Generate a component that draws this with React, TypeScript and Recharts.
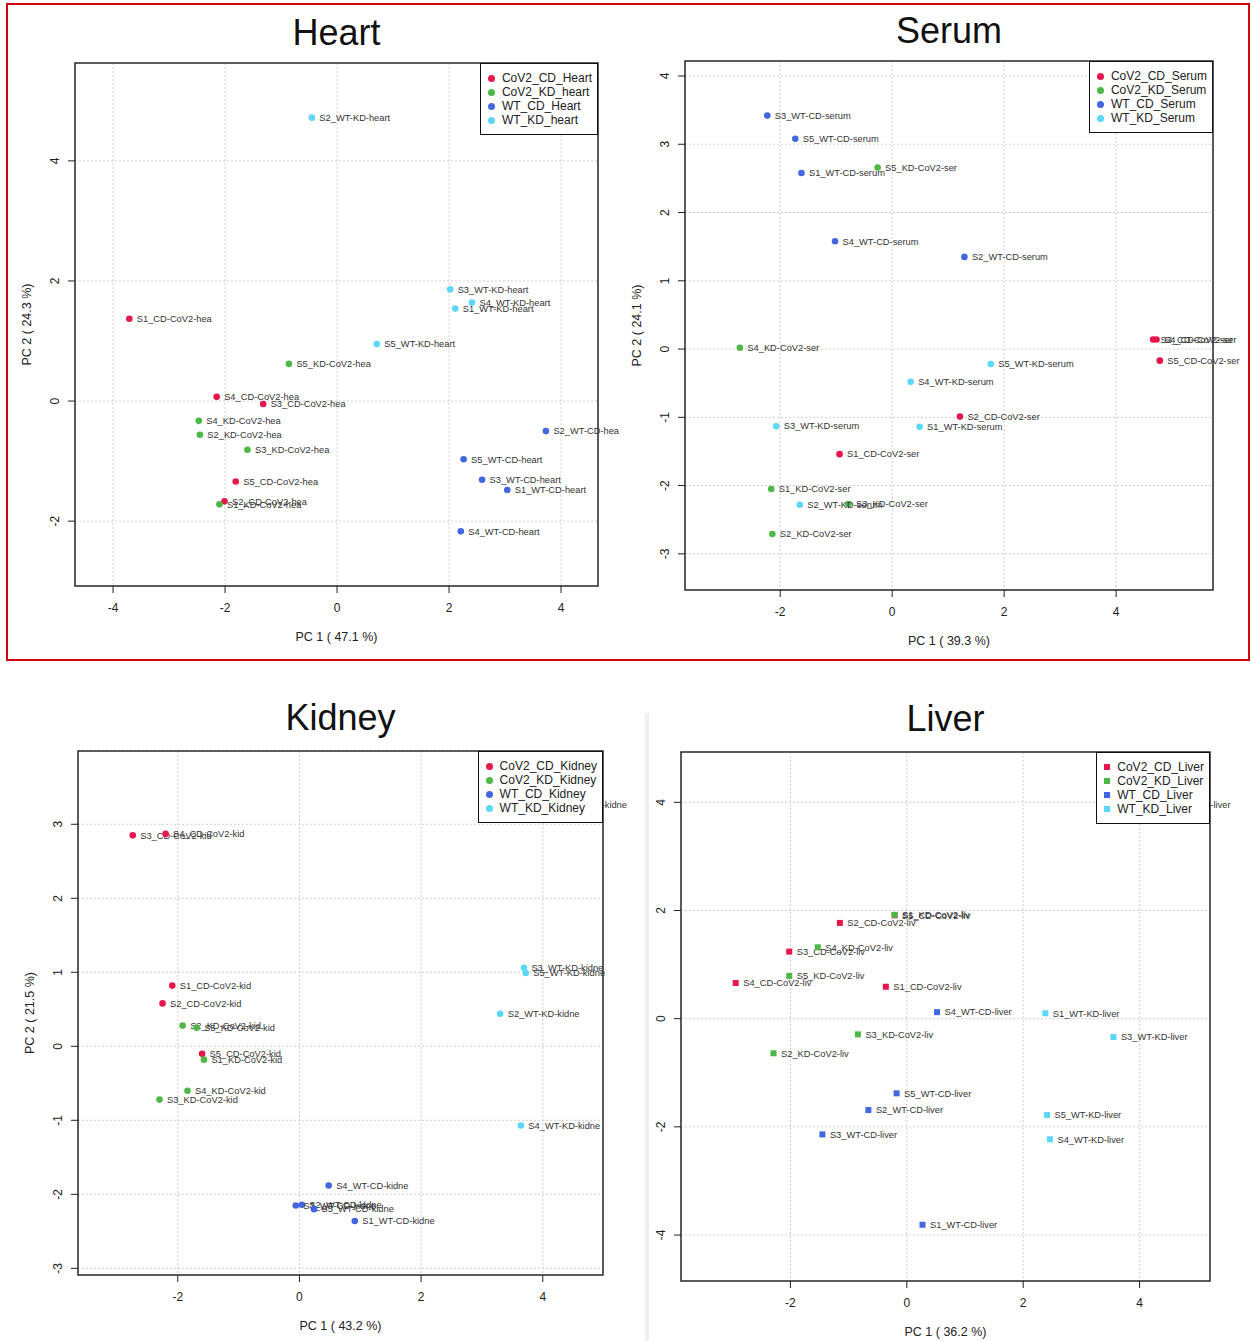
import React from 'react';
import {
  ScatterChart,
  Scatter,
  XAxis,
  YAxis,
  CartesianGrid,
  ReferenceArea
} from 'recharts';

const FONT = '"Liberation Sans", Arial, Helvetica, sans-serif';

// group colours: CoV2_CD, CoV2_KD, WT_CD, WT_KD
const GROUP_COLORS = ['#E8174B', '#4DB848', '#4466E0', '#5CD7FA'];

type Sample = { label: string; pc1: number; pc2: number };

// ---- Heart ----
const heartLegend = ['CoV2_CD_Heart', 'CoV2_KD_heart', 'WT_CD_Heart', 'WT_KD_heart'];
const heartCoV2CD: Sample[] = [
  { label: 'S1_CD-CoV2-hea', pc1: -3.71, pc2: 1.37 },
  { label: 'S2_CD-CoV2-hea', pc1: -2.01, pc2: -1.67 },
  { label: 'S3_CD-CoV2-hea', pc1: -1.32, pc2: -0.05 },
  { label: 'S4_CD-CoV2-hea', pc1: -2.15, pc2: 0.07 },
  { label: 'S5_CD-CoV2-hea', pc1: -1.81, pc2: -1.34 }
];
const heartCoV2KD: Sample[] = [
  { label: 'S1_KD-CoV2-hea', pc1: -2.1, pc2: -1.72 },
  { label: 'S2_KD-CoV2-hea', pc1: -2.45, pc2: -0.56 },
  { label: 'S3_KD-CoV2-hea', pc1: -1.6, pc2: -0.81 },
  { label: 'S4_KD-CoV2-hea', pc1: -2.47, pc2: -0.33 },
  { label: 'S5_KD-CoV2-hea', pc1: -0.86, pc2: 0.62 }
];
const heartWTCD: Sample[] = [
  { label: 'S1_WT-CD-heart', pc1: 3.04, pc2: -1.48 },
  { label: 'S2_WT-CD-hea', pc1: 3.73, pc2: -0.5 },
  { label: 'S3_WT-CD-heart', pc1: 2.59, pc2: -1.31 },
  { label: 'S4_WT-CD-heart', pc1: 2.21, pc2: -2.17 },
  { label: 'S5_WT-CD-heart', pc1: 2.26, pc2: -0.97 }
];
const heartWTKD: Sample[] = [
  { label: 'S1_WT-KD-heart', pc1: 2.11, pc2: 1.54 },
  { label: 'S2_WT-KD-heart', pc1: -0.45, pc2: 4.72 },
  { label: 'S3_WT-KD-heart', pc1: 2.02, pc2: 1.86 },
  { label: 'S4_WT-KD-heart', pc1: 2.41, pc2: 1.64 },
  { label: 'S5_WT-KD-heart', pc1: 0.71, pc2: 0.95 }
];

// ---- Serum ----
const serumLegend = ['CoV2_CD_Serum', 'CoV2_KD_Serum', 'WT_CD_Serum', 'WT_KD_Serum'];
const serumCoV2CD: Sample[] = [
  { label: 'S1_CD-CoV2-ser', pc1: -0.94, pc2: -1.54 },
  { label: 'S2_CD-CoV2-ser', pc1: 1.21, pc2: -0.99 },
  { label: 'S3_CD-CoV2-ser', pc1: 4.66, pc2: 0.14 },
  { label: 'S4_CD-CoV2-ser', pc1: 4.72, pc2: 0.14 },
  { label: 'S5_CD-CoV2-ser', pc1: 4.78, pc2: -0.17 }
];
const serumCoV2KD: Sample[] = [
  { label: 'S1_KD-CoV2-ser', pc1: -2.16, pc2: -2.05 },
  { label: 'S2_KD-CoV2-ser', pc1: -2.14, pc2: -2.71 },
  { label: 'S3_KD-CoV2-ser', pc1: -0.78, pc2: -2.27 },
  { label: 'S4_KD-CoV2-ser', pc1: -2.72, pc2: 0.02 },
  { label: 'S5_KD-CoV2-ser', pc1: -0.26, pc2: 2.66 }
];
const serumWTCD: Sample[] = [
  { label: 'S1_WT-CD-serum', pc1: -1.62, pc2: 2.58 },
  { label: 'S2_WT-CD-serum', pc1: 1.29, pc2: 1.35 },
  { label: 'S3_WT-CD-serum', pc1: -2.23, pc2: 3.42 },
  { label: 'S4_WT-CD-serum', pc1: -1.02, pc2: 1.58 },
  { label: 'S5_WT-CD-serum', pc1: -1.73, pc2: 3.08 }
];
const serumWTKD: Sample[] = [
  { label: 'S1_WT-KD-serum', pc1: 0.49, pc2: -1.14 },
  { label: 'S2_WT-KD-serum', pc1: -1.65, pc2: -2.28 },
  { label: 'S3_WT-KD-serum', pc1: -2.07, pc2: -1.13 },
  { label: 'S4_WT-KD-serum', pc1: 0.33, pc2: -0.48 },
  { label: 'S5_WT-KD-serum', pc1: 1.76, pc2: -0.22 }
];

// ---- Kidney ----
const kidneyLegend = ['CoV2_CD_Kidney', 'CoV2_KD_Kidney', 'WT_CD_Kidney', 'WT_KD_Kidney'];
const kidneyCoV2CD: Sample[] = [
  { label: 'S1_CD-CoV2-kid', pc1: -2.09, pc2: 0.82 },
  { label: 'S2_CD-CoV2-kid', pc1: -2.25, pc2: 0.58 },
  { label: 'S3_CD-CoV2-kid', pc1: -2.74, pc2: 2.85 },
  { label: 'S4_CD-CoV2-kid', pc1: -2.2, pc2: 2.87 },
  { label: 'S5_CD-CoV2-kid', pc1: -1.6, pc2: -0.1 }
];
const kidneyCoV2KD: Sample[] = [
  { label: 'S1_KD-CoV2-kid', pc1: -1.57, pc2: -0.18 },
  { label: 'S2_KD-CoV2-kid', pc1: -1.92, pc2: 0.28 },
  { label: 'S3_KD-CoV2-kid', pc1: -2.3, pc2: -0.72 },
  { label: 'S4_KD-CoV2-kid', pc1: -1.84, pc2: -0.6 },
  { label: 'S5_KD-CoV2-kid', pc1: -1.69, pc2: 0.25 }
];
const kidneyWTCD: Sample[] = [
  { label: 'S1_WT-CD-kidne', pc1: 0.91, pc2: -2.36 },
  { label: 'S2_WT-CD-kidne', pc1: 0.04, pc2: -2.14 },
  { label: 'S3_WT-CD-kidne', pc1: -0.06, pc2: -2.15 },
  { label: 'S4_WT-CD-kidne', pc1: 0.48, pc2: -1.88 },
  { label: 'S5_WT-CD-kidne', pc1: 0.24, pc2: -2.2 }
];
const kidneyWTKD: Sample[] = [
  { label: 'S1_WT-KD-kidne', pc1: 4.08, pc2: 3.27 },
  { label: 'S2_WT-KD-kidne', pc1: 3.3, pc2: 0.44 },
  { label: 'S3_WT-KD-kidne', pc1: 3.69, pc2: 1.06 },
  { label: 'S4_WT-KD-kidne', pc1: 3.64, pc2: -1.07 },
  { label: 'S5_WT-KD-kidne', pc1: 3.72, pc2: 0.99 }
];

// ---- Liver ----
const liverLegend = ['CoV2_CD_Liver', 'CoV2_KD_Liver', 'WT_CD_Liver', 'WT_KD_Liver'];
const liverCoV2CD: Sample[] = [
  { label: 'S1_CD-CoV2-liv', pc1: -0.36, pc2: 0.59 },
  { label: 'S2_CD-CoV2-liv', pc1: -1.15, pc2: 1.77 },
  { label: 'S3_CD-CoV2-liv', pc1: -2.02, pc2: 1.24 },
  { label: 'S4_CD-CoV2-liv', pc1: -2.94, pc2: 0.66 },
  { label: 'S5_CD-CoV2-liv', pc1: -0.21, pc2: 1.91 }
];
const liverCoV2KD: Sample[] = [
  { label: 'S1_KD-CoV2-liv', pc1: -0.21, pc2: 1.92 },
  { label: 'S2_KD-CoV2-liv', pc1: -2.29, pc2: -0.64 },
  { label: 'S3_KD-CoV2-liv', pc1: -0.84, pc2: -0.29 },
  { label: 'S4_KD-CoV2-liv', pc1: -1.53, pc2: 1.32 },
  { label: 'S5_KD-CoV2-liv', pc1: -2.02, pc2: 0.79 }
];
const liverWTCD: Sample[] = [
  { label: 'S1_WT-CD-liver', pc1: 0.27, pc2: -3.81 },
  { label: 'S2_WT-CD-liver', pc1: -0.66, pc2: -1.69 },
  { label: 'S3_WT-CD-liver', pc1: -1.45, pc2: -2.14 },
  { label: 'S4_WT-CD-liver', pc1: 0.52, pc2: 0.12 },
  { label: 'S5_WT-CD-liver', pc1: -0.175, pc2: -1.38 }
];
const liverWTKD: Sample[] = [
  { label: 'S1_WT-KD-liver', pc1: 2.38, pc2: 0.1 },
  { label: 'S2_WT-KD-liver', pc1: 4.29, pc2: 3.96 },
  { label: 'S3_WT-KD-liver', pc1: 3.55, pc2: -0.34 },
  { label: 'S4_WT-KD-liver', pc1: 2.46, pc2: -2.23 },
  { label: 'S5_WT-KD-liver', pc1: 2.41, pc2: -1.78 }
];

interface PanelConfig {
  title: string;
  xLabel: string;
  yLabel?: string;
  legend: string[];
  series: Sample[][];
  xTicks: number[];
  yTicks: number[];
  xDomain: [number, number];
  yDomain: [number, number];
  box: { left: number; top: number; right: number; bottom: number };
  square?: boolean;
}

const panels: PanelConfig[] = [
  {
    title: 'Heart',
    xLabel: 'PC 1 ( 47.1 %)',
    yLabel: 'PC 2 ( 24.3 %)',
    legend: heartLegend,
    series: [heartCoV2CD, heartCoV2KD, heartWTCD, heartWTKD],
    xTicks: [-4, -2, 0, 2, 4],
    yTicks: [-2, 0, 2, 4],
    xDomain: [-4.68, 4.66],
    yDomain: [-3.08, 5.63],
    box: { left: 75, top: 63, right: 598, bottom: 586 }
  },
  {
    title: 'Serum',
    xLabel: 'PC 1 ( 39.3 %)',
    yLabel: 'PC 2 ( 24.1 %)',
    legend: serumLegend,
    series: [serumCoV2CD, serumCoV2KD, serumWTCD, serumWTKD],
    xTicks: [-2, 0, 2, 4],
    yTicks: [-3, -2, -1, 0, 1, 2, 3, 4],
    xDomain: [-3.7, 5.73],
    yDomain: [-3.53, 4.22],
    box: { left: 685, top: 61, right: 1213, bottom: 590 }
  },
  {
    title: 'Kidney',
    xLabel: 'PC 1 ( 43.2 %)',
    yLabel: 'PC 2 ( 21.5 %)',
    legend: kidneyLegend,
    series: [kidneyCoV2CD, kidneyCoV2KD, kidneyWTCD, kidneyWTKD],
    xTicks: [-2, 0, 2, 4],
    yTicks: [-3, -2, -1, 0, 1, 2, 3],
    xDomain: [-3.64, 4.99],
    yDomain: [-3.09, 3.99],
    box: { left: 78, top: 751, right: 603, bottom: 1275 }
  },
  {
    title: 'Liver',
    xLabel: 'PC 1 ( 36.2 %)',
    legend: liverLegend,
    series: [liverCoV2CD, liverCoV2KD, liverWTCD, liverWTKD],
    xTicks: [-2, 0, 2, 4],
    yTicks: [-4, -2, 0, 2, 4],
    xDomain: [-3.88, 5.21],
    yDomain: [-4.85, 4.93],
    box: { left: 681, top: 752, right: 1210, bottom: 1281 },
    square: true
  }
];

const ML = 60;
const MT = 10;
const MR = 40;
const MB = 40;

const XTick = ({ x, y, payload }: any) => (
  <text x={x} y={y + 19} textAnchor="middle" fontSize={12} fill="#222" fontFamily={FONT}>
    {payload.value}
  </text>
);

const YTick = ({ x, y, payload }: any) => (
  <text
    transform={`translate(${x - 9},${y}) rotate(-90)`}
    textAnchor="middle"
    fontSize={12}
    fill="#222"
    fontFamily={FONT}
  >
    {payload.value}
  </text>
);

const makeShape = (color: string, square?: boolean) => (props: any) => {
  const { cx, cy, payload } = props;
  return (
    <g>
      {square ? (
        <rect x={cx - 3} y={cy - 3} width={6} height={6} fill={color} />
      ) : (
        <circle cx={cx} cy={cy} r={3.3} fill={color} />
      )}
      <text x={cx + 7.5} y={cy + 3.3} fontSize={9.3} fill="#333" fontFamily={FONT}>
        {payload.label}
      </text>
    </g>
  );
};

const PcaPanel = ({ cfg }: { cfg: PanelConfig }) => {
  const { box } = cfg;
  const w = box.right - box.left + ML + MR;
  const h = box.bottom - box.top + MT + MB;
  const cx = (box.left + box.right) / 2;
  const cy = (box.top + box.bottom) / 2;

  return (
    <>
      <div style={{ position: 'absolute', left: box.left - ML, top: box.top - MT, width: w, height: h }}>
        <ScatterChart width={w} height={h} margin={{ top: MT, right: MR, bottom: 0, left: 0 }}>
          <CartesianGrid strokeDasharray="2 2" stroke="#cfcfcf" />
          <XAxis
            type="number"
            dataKey="pc1"
            domain={cfg.xDomain}
            ticks={cfg.xTicks}
            interval={0}
            height={MB}
            axisLine={false}
            tickSize={7}
            tickMargin={0}
            tickLine={{ stroke: '#222' }}
            tick={<XTick />}
          />
          <YAxis
            type="number"
            dataKey="pc2"
            domain={cfg.yDomain}
            ticks={cfg.yTicks}
            interval={0}
            width={ML}
            axisLine={false}
            tickSize={7}
            tickMargin={0}
            tickLine={{ stroke: '#222' }}
            tick={<YTick />}
          />
          <ReferenceArea
            x1={cfg.xDomain[0]}
            x2={cfg.xDomain[1]}
            y1={cfg.yDomain[0]}
            y2={cfg.yDomain[1]}
            fill="none"
            stroke="#2a2a2a"
            strokeWidth={1.5}
          />
          {cfg.series.map((s, i) => (
            <Scatter
              key={cfg.legend[i]}
              name={cfg.legend[i]}
              data={s}
              fill={GROUP_COLORS[i]}
              shape={makeShape(GROUP_COLORS[i], cfg.square)}
              isAnimationActive={false}
            />
          ))}
        </ScatterChart>

        {/* legend box sits on top of the plot, like R's legend() */}
        <div
          style={{
            position: 'absolute',
            right: MR,
            top: MT,
            background: '#fff',
            border: '1.5px solid #111',
            padding: '7px 5px 7px 7px',
            fontFamily: FONT,
            fontSize: 12,
            color: '#222'
          }}
        >
          {cfg.legend.map((name, i) => (
            <div key={name} style={{ display: 'flex', alignItems: 'center', height: 14, whiteSpace: 'nowrap' }}>
              <span
                style={{
                  display: 'inline-block',
                  width: cfg.square ? 6 : 7,
                  height: cfg.square ? 6 : 7,
                  borderRadius: cfg.square ? 0 : '50%',
                  background: GROUP_COLORS[i],
                  marginLeft: 0,
                  marginRight: 7
                }}
              />
              {name}
            </div>
          ))}
        </div>
      </div>

      <svg style={{ position: 'absolute', left: 0, top: 0, pointerEvents: 'none' }} width={1251} height={1341}>
        <text
          x={cx}
          y={box.top - (cfg.title === 'Heart' || cfg.title === 'Serum' ? 18 : 21)}
          textAnchor="middle"
          fontSize={36}
          fill="#111"
          fontFamily={FONT}
        >
          {cfg.title}
        </text>
        <text x={cx} y={box.bottom + 55} textAnchor="middle" fontSize={12.5} fill="#222" fontFamily={FONT}>
          {cfg.xLabel}
        </text>
        {cfg.yLabel && (
          <text
            transform={`translate(${box.left - 44},${cy}) rotate(-90)`}
            textAnchor="middle"
            fontSize={12.5}
            fill="#222"
            fontFamily={FONT}
          >
            {cfg.yLabel}
          </text>
        )}
      </svg>
    </>
  );
};

export default function App() {
  return (
    <div style={{ position: 'absolute', left: 0, top: 0, width: 1251, height: 1341, background: '#fff', overflow: 'hidden' }}>
      <div
        style={{
          position: 'absolute',
          left: 6,
          top: 3,
          width: 1244,
          height: 658,
          border: '2px solid #cc0a0a',
          boxSizing: 'border-box'
        }}
      />
      <div style={{ position: 'absolute', left: 645, top: 713, width: 4, height: 628, background: '#f0f0f0' }} />
      {panels.map((p) => (
        <PcaPanel key={p.title} cfg={p} />
      ))}
    </div>
  );
}
